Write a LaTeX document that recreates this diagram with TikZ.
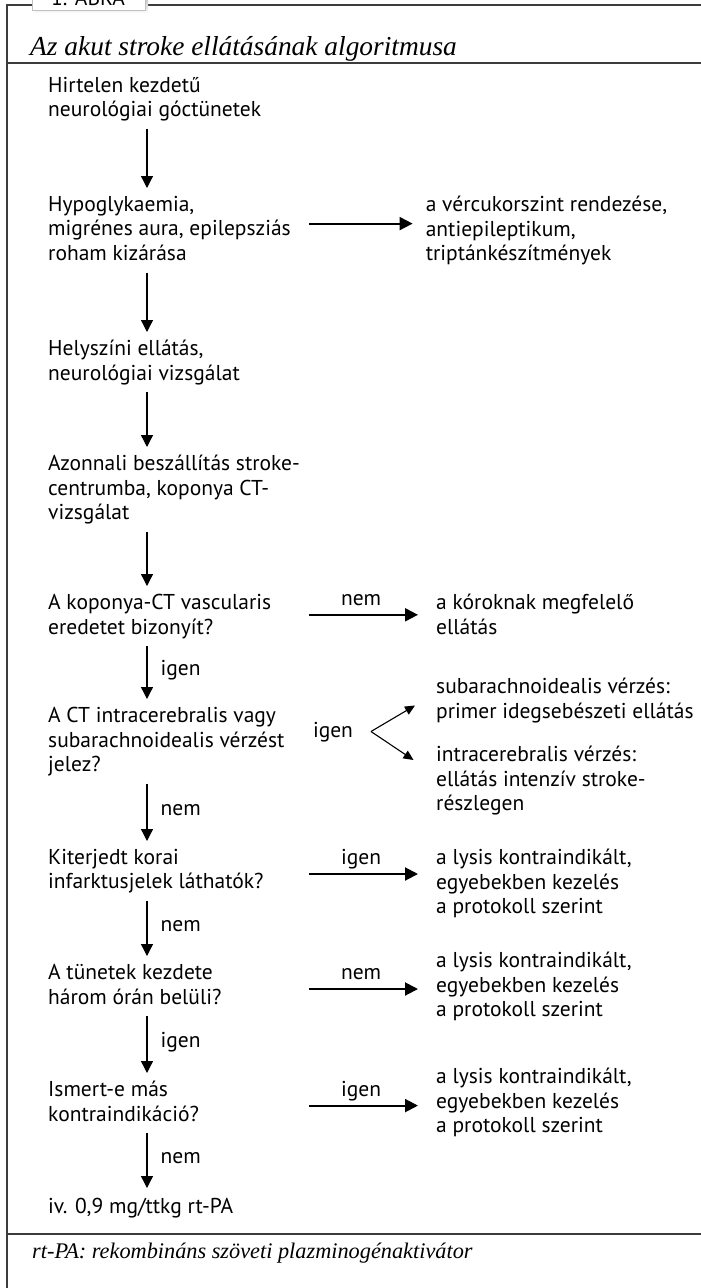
\documentclass[tikz,border=0pt]{standalone}
\usepackage{fontspec}
\setmainfont{PT Sans}
\newfontfamily\capfont{Liberation Serif}
\usetikzlibrary{arrows.meta}
\definecolor{rule}{RGB}{60, 60, 60}
\definecolor{shade}{RGB}{150, 150, 150}
\newcommand{\txt}{\fontsize{21.5}{24.5}\selectfont}
\newcommand{\ttl}{\capfont\itshape\fontsize{27.4}{30}\selectfont}
\newcommand{\ftn}{\capfont\itshape\fontsize{22.3}{25}\selectfont}
\tikzset{
    box/.style={anchor=north west, align=left, inner sep=0pt, font=\txt,
                execute at begin node=\strut, execute at end node=\strut},
    down/.style={-{Triangle[length=12pt,width=12pt]}, line width=1.3pt, shorten <=4.6pt, shorten >=8pt},
    side/.style={-{Triangle[length=13pt,width=13pt]}, line width=2pt},
    fork/.style={-{Triangle[length=10pt,width=9pt]}, line width=1.1pt},
    yesno/.style={font=\txt, inner sep=0pt},
    frame/.style={draw=rule, line width=1.2pt}
}

\begin{document}
\begin{tikzpicture}[x=1pt, y=-1pt]
    \clip (0,0) rectangle (701,1288);
    % frame and tab
    \draw[frame] (32,5) -- (7,5) -- (7,1288);
    \draw[frame] (145,5) -- (701,5);
    \draw[frame] (7,63) -- (701,63);
    \draw[frame] (7,1234) -- (701,1234);
    \fill[shade]                      (35,-20) rectangle (148,13.5);
    \filldraw[draw=shade!60, fill=white] (32,-20) rectangle (145,10.5);
    \node[yesno, anchor=base] (abra) at (88,5) {1. ÁBRA};
    \node[font=\ttl, inner sep=0pt, anchor=base west] (title) at (30,55) {Az akut stroke ellátásának algoritmusa};
    \node[font=\ftn, inner sep=0pt, anchor=base west] (note) at (32,1258) {rt-PA: rekombináns szöveti plazminogénaktivátor};

    \coordinate (ax) at (147,0);
    \coordinate (rx) at (309,0);

    % main column
    \node[box] (hirtelen)  at (48,77)   {Hirtelen kezdetű\\neurológiai góctünetek};
    \node[box] (hypo)      at (48,196)  {Hypoglykaemia,\\migrénes aura, epilepsziás\\roham kizárása};
    \node[box] (helyszini) at (48,340)  {Helyszíni ellátás,\\neurológiai vizsgálat};
    \node[box] (azonnali)  at (48,455)  {Azonnali beszállítás stroke-\\centrumba, koponya CT-\\vizsgálat};
    \node[box] (koponya)   at (48,594)  {A koponya-CT vascularis\\eredetet bizonyít?};
    \node[box] (ctvagy)    at (48,707)  {A CT intracerebralis vagy\\subarachnoidealis vérzést\\jelez?};
    \node[box] (kiterjedt) at (48,849)  {Kiterjedt korai\\infarktusjelek láthatók?};
    \node[box] (tunetek)   at (48,964)  {A tünetek kezdete\\három órán belüli?};
    \node[box] (ismert)    at (48,1081) {Ismert-e más\\kontraindikáció?};
    \node[box] (ivpa)      at (48,1196) {iv. 0,9 mg/ttkg rt-PA};

    % right column
    \node[box] (vercukor)   at (425.6,196) {a vércukorszint rendezése,\\antiepileptikum,\\triptánkészítmények};
    \node[box] (koroknak)   at (436,594)  {a kóroknak megfelelő\\ellátás};
    \node[box] (subarach)   at (436,678)  {subarachnoidealis vérzés:\\primer idegsebészeti ellátás};
    \node[box] (intracereb) at (436,746)  {intracerebralis vérzés:\\ellátás intenzív stroke-\\részlegen};
    \node[box] (lysisa)     at (436,849)  {a lysis kontraindikált,\\egyebekben kezelés\\a protokoll szerint};
    \node[box] (lysisb)     at (436,952)  {a lysis kontraindikált,\\egyebekben kezelés\\a protokoll szerint};
    \node[box] (lysisc)     at (436,1068) {a lysis kontraindikált,\\egyebekben kezelés\\a protokoll szerint};

    % downward arrows
    \draw[down] (hirtelen.south -| ax)  -- (hypo.north -| ax);
    \draw[down] (hypo.south -| ax)      -- (helyszini.north -| ax);
    \draw[down] (helyszini.south -| ax) -- (azonnali.north -| ax);
    \draw[down] (azonnali.south -| ax)  -- (koponya.north -| ax);
    \draw[down] (koponya.south -| ax)   -- node[yesno, midway, anchor=base west, xshift=13pt, yshift=-1.5pt] {igen} (ctvagy.north -| ax);
    \draw[down] (ctvagy.south -| ax)    -- node[yesno, midway, anchor=base west, xshift=13pt, yshift=-1.5pt] {nem}  (kiterjedt.north -| ax);
    \draw[down] (kiterjedt.south -| ax) -- node[yesno, midway, anchor=base west, xshift=13pt, yshift=-1.5pt] {nem}  (tunetek.north -| ax);
    \draw[down] (tunetek.south -| ax)   -- node[yesno, midway, anchor=base west, xshift=13pt, yshift=-1.5pt] {igen} (ismert.north -| ax);
    \draw[down] (ismert.south -| ax)    -- node[yesno, midway, anchor=base west, xshift=13pt, yshift=-1.5pt] {nem}  (ivpa.north -| ax);

    % side arrows
    \draw[side, shorten >=13pt] ([yshift=-27.6pt]hypo.north -| rx) -- ([yshift=-27.6pt]hypo.north -| vercukor.west);
    \draw[side, shorten >=18pt] ([yshift=-20.8pt]koponya.north -| rx) -- node[yesno, pos=0.41, anchor=base, yshift=9.5pt] {nem} ([yshift=-20.8pt]koponya.north -| koroknak.west);
    \draw[side, shorten >=18pt] ([yshift=-25pt]kiterjedt.north -| rx) -- node[yesno, pos=0.41, anchor=base, yshift=9.5pt] {igen} ([yshift=-25pt]kiterjedt.north -| lysisa.west);
    \draw[side, shorten >=18pt] ([yshift=-25pt]tunetek.north -| rx) -- node[yesno, pos=0.41, anchor=base, yshift=9.5pt] {nem} ([yshift=-25pt]tunetek.north -| lysisb.west);
    \draw[side, shorten >=18pt] ([yshift=-24.6pt]ismert.north -| rx) -- node[yesno, pos=0.41, anchor=base, yshift=9.5pt] {igen} ([yshift=-24.6pt]ismert.north -| lysisc.west);

    % fork to the two bleeding types
    \node[yesno, anchor=base] (igenfork) at (333,737) {igen};
    \coordinate (fk) at (371,731.5);
    \draw[fork] (fk) -- ++(44,-26);
    \draw[fork] (fk) -- ++(42.5,28.5);
\end{tikzpicture}
\end{document}
